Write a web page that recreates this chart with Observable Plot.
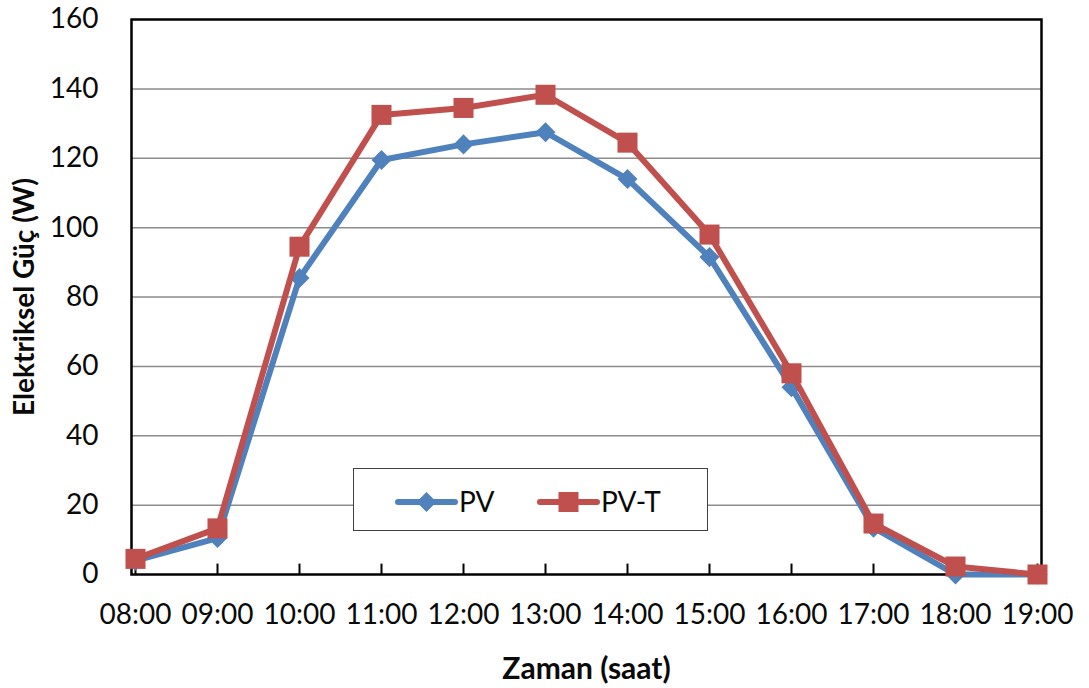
<!DOCTYPE html>
<html>
<head>
<meta charset="utf-8">
<script src="https://cdn.jsdelivr.net/npm/d3@7"></script>
<script src="https://cdn.jsdelivr.net/npm/@observablehq/plot@0.6"></script>
<style>
  html, body { margin: 0; padding: 0; background: #fff; }
  #wrap { position: relative; width: 1089px; height: 688px; font-family: Lato, "Open Sans", sans-serif; }
  #wrap svg text { fill: #0a0a0a; }
  g[aria-label="x-axis label"] text { font-weight: bold; font-size: 30px; }
  g[aria-label="y-axis label"] text { font-weight: bold; font-size: 28px; }
  #legend { position: absolute; left: 353px; top: 468px; width: 353px; height: 61px;
            border: 1.5px solid #404040; background: #fff; }
</style>
</head>
<body>
<div id="wrap"><div id="legend"></div></div>
<script>
const times = ["08:00","09:00","10:00","11:00","12:00","13:00","14:00","15:00","16:00","17:00","18:00","19:00"];
const pv  = [4, 10.5, 85.5, 119.5, 124, 127.5, 114, 91.5, 54, 13.5, 0, 0];
const pvt = [4.5, 13.3, 94.5, 132.5, 134.5, 138.3, 124.5, 98, 58, 14.7, 2.3, 0];
const yTicks = [0, 20, 40, 60, 80, 100, 120, 140, 160];
const gridTicks = [20, 40, 60, 80, 100, 120, 140];
const seriesNames = ["PV", "PV-T"];
const seriesColors = ["#4F81BD", "#C0504D"];

const diamond = {
  draw(ctx, size) {
    const r = Math.sqrt(size / 2);
    ctx.moveTo(0, -r); ctx.lineTo(r, 0); ctx.lineTo(0, r); ctx.lineTo(-r, 0); ctx.closePath();
  }
};
const seriesSymbols = [diamond, "square"];
const seriesR = [8, 11.3];

const rowsPV = times.map((t, i) => ({time: t, value: pv[i]}));
const rowsPVT = times.map((t, i) => ({time: t, value: pvt[i]}));
const rowsAll = [rowsPV, rowsPVT];

const marks = [
  Plot.ruleY(gridTicks, {stroke: "#8c8c8c", strokeWidth: 1.5}),
  Plot.ruleX(times, {y1: 0, y2: 3, stroke: "#000", strokeWidth: 2}),
  Plot.frame({stroke: "#000", strokeWidth: 2.5}),
  Plot.axisY(yTicks, {tickSize: 0, tickPadding: 33, fontSize: 28, label: "Elektriksel Güç (W)", labelAnchor: "center", labelOffset: 117, labelArrow: "none"}),
  Plot.axisX({tickSize: 0, tickPadding: 30, fontSize: 28, label: "Zaman (saat)", labelAnchor: "center", labelOffset: 104, labelArrow: "none"})
];
rowsAll.forEach((rows, k) => {
  marks.push(Plot.line(rows, {x: "time", y: "value", stroke: seriesColors[k], strokeWidth: 6, strokeLinejoin: "round", strokeLinecap: "round"}));
  marks.push(Plot.dot(rows, {x: "time", y: "value", symbol: () => seriesSymbols[k], r: seriesR[k], fill: seriesColors[k], stroke: "none"}));
});

const chart = Plot.plot({
  width: 1089,
  height: 688,
  marginLeft: 131,
  marginRight: 48,
  marginTop: 19,
  marginBottom: 114,
  style: {fontFamily: "Lato, 'Open Sans', sans-serif", fontSize: "28px", background: "#fff", color: "#0a0a0a"},
  x: {type: "point", domain: times, padding: 0},
  y: {domain: [0, 160]},
  symbol: {type: "identity"},
  marks
});
document.getElementById("wrap").prepend(chart);

// Legend (HTML overlay inside the plot area)
const lg = d3.select("#legend").append("svg").attr("width", 353).attr("height", 61);
const itemX = [44, 186];
seriesNames.forEach((name, k) => {
  const g = lg.append("g").attr("transform", `translate(${itemX[k]},33)`);
  g.append("line").attr("x1", 0).attr("x2", 57).attr("y1", 0).attr("y2", 0)
    .attr("stroke", seriesColors[k]).attr("stroke-width", 6).attr("stroke-linecap", "round");
  if (k === 0) {
    g.append("path").attr("d", "M28.5,-10L38.5,0L28.5,10L18.5,0Z").attr("fill", seriesColors[k]);
  } else {
    g.append("rect").attr("x", 18.5).attr("y", -10).attr("width", 20).attr("height", 20).attr("fill", seriesColors[k]);
  }
  g.append("text").attr("x", 61).attr("y", 0).attr("dy", "0.35em")
    .attr("font-family", "Lato, 'Open Sans', sans-serif").attr("font-size", 28).attr("fill", "#0a0a0a").text(name);
});
</script>
</body>
</html>
